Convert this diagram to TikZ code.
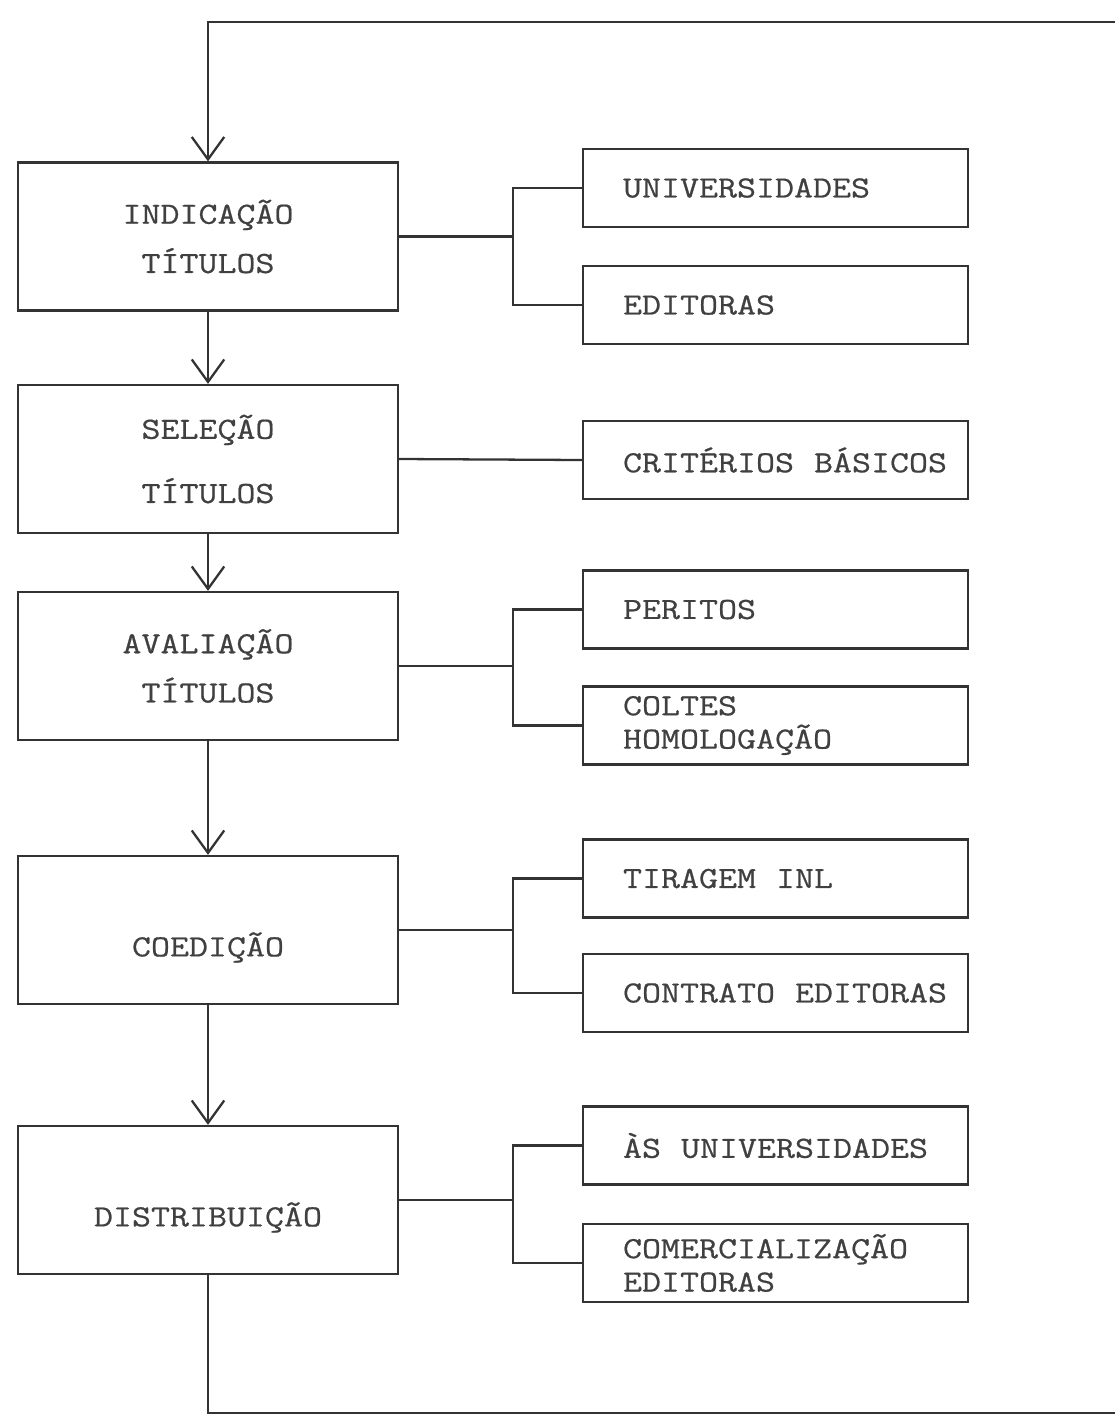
\documentclass[tikz,border=0pt]{standalone}
\usepackage{fontspec}
\setmonofont{Latin Modern Mono}[FakeStretch=1.2,FakeBold=0.6]
\usetikzlibrary{arrows.meta}

\newcommand{\esp}{\hspace{0.4cm}}

\tikzset{
  etapa/.style={draw=black!80, line width=1.3pt, minimum width=7.6cm, minimum height=2.96cm, align=center, text=black!75, font=\ttfamily\fontsize{17.5}{28}\selectfont},
  destino/.style={draw=black!80, line width=1.3pt, minimum width=7.7cm, minimum height=1.56cm, text width=6.1cm, inner xsep=0pt, align=left, text=black!75, font=\ttfamily\fontsize{17.5}{19}\selectfont},
  liga/.style={draw=black!80, line width=1.3pt}
}

\begin{document}
\begin{tikzpicture}[x=0.02cm,y=-0.02cm,>={Straight Barb[length=4.5mm,width=6.5mm]}]
    \useasboundingbox (0,0) rectangle (1115,1417);
    % etapas
    \node[etapa] (indicacao) at (208,236.5) {INDICAÇÃO\\TÍTULOS};
    \node[etapa] (selecao) at (208,459) {SELEÇÃO\\[0.3cm]TÍTULOS};
    \node[etapa] (avaliacao) at (208,666) {AVALIAÇÃO\\TÍTULOS};
    \node[etapa] (coedicao) at (208,930) {\raisebox{-0.35cm}[\height][\depth]{COEDIÇÃO}};
    \node[etapa] (distribuicao) at (208,1200) {\raisebox{-0.35cm}[\height][\depth]{DISTRIBUIÇÃO}};
    %
    \node[destino] (universidades) at (775.5,188) {UNIVERSIDADES};
    \node[destino] (editoras) at (775.5,305) {EDITORAS};
    \node[destino] (criterios) at (775.5,460) {\mbox{CRITÉRIOS\esp BÁSICOS}};
    \node[destino] (peritos) at (775.5,609.5) {PERITOS};
    \node[destino] (coltes) at (775.5,725.5) {COLTES\\HOMOLOGAÇÃO};
    \node[destino] (tiragem) at (775.5,878.5) {\mbox{TIRAGEM\esp INL}};
    \node[destino] (contrato) at (775.5,993) {\mbox{CONTRATO\esp EDITORAS}};
    \node[destino] (asuniv) at (775.5,1145.5) {\mbox{ÀS\esp UNIVERSIDADES}};
    \node[destino] (comerc) at (775.5,1263) {COMERCIALIZAÇÃO\\EDITORAS};
    %
    \coordinate (retorno) at (1115,22);
    \coordinate (saida) at (1115,1413);
    \draw[liga,->] (retorno) -| (indicacao.north);
    \draw[liga,->] (indicacao.south) -- (selecao.north);
    \draw[liga,->] (selecao.south) -- (avaliacao.north);
    \draw[liga,->] (avaliacao.south) -- (coedicao.north);
    \draw[liga,->] (coedicao.south) -- (distribuicao.north);
    \draw[liga] (distribuicao.south) |- (saida);
    % ramos
    \draw[liga] (indicacao.east) -- ++(114,0) coordinate (j1);
    \draw[liga] (universidades.west) -| (j1) |- (editoras.west);
    \draw[liga] (selecao.east) -- (criterios.west);
    \draw[liga] (avaliacao.east) -- ++(114,0) coordinate (j2);
    \draw[liga] (peritos.west) -| (j2) |- (coltes.west);
    \draw[liga] (coedicao.east) -- ++(114,0) coordinate (j3);
    \draw[liga] (tiragem.west) -| (j3) |- (contrato.west);
    \draw[liga] (distribuicao.east) -- ++(114,0) coordinate (j4);
    \draw[liga] (asuniv.west) -| (j4) |- (comerc.west);
\end{tikzpicture}
\end{document}
